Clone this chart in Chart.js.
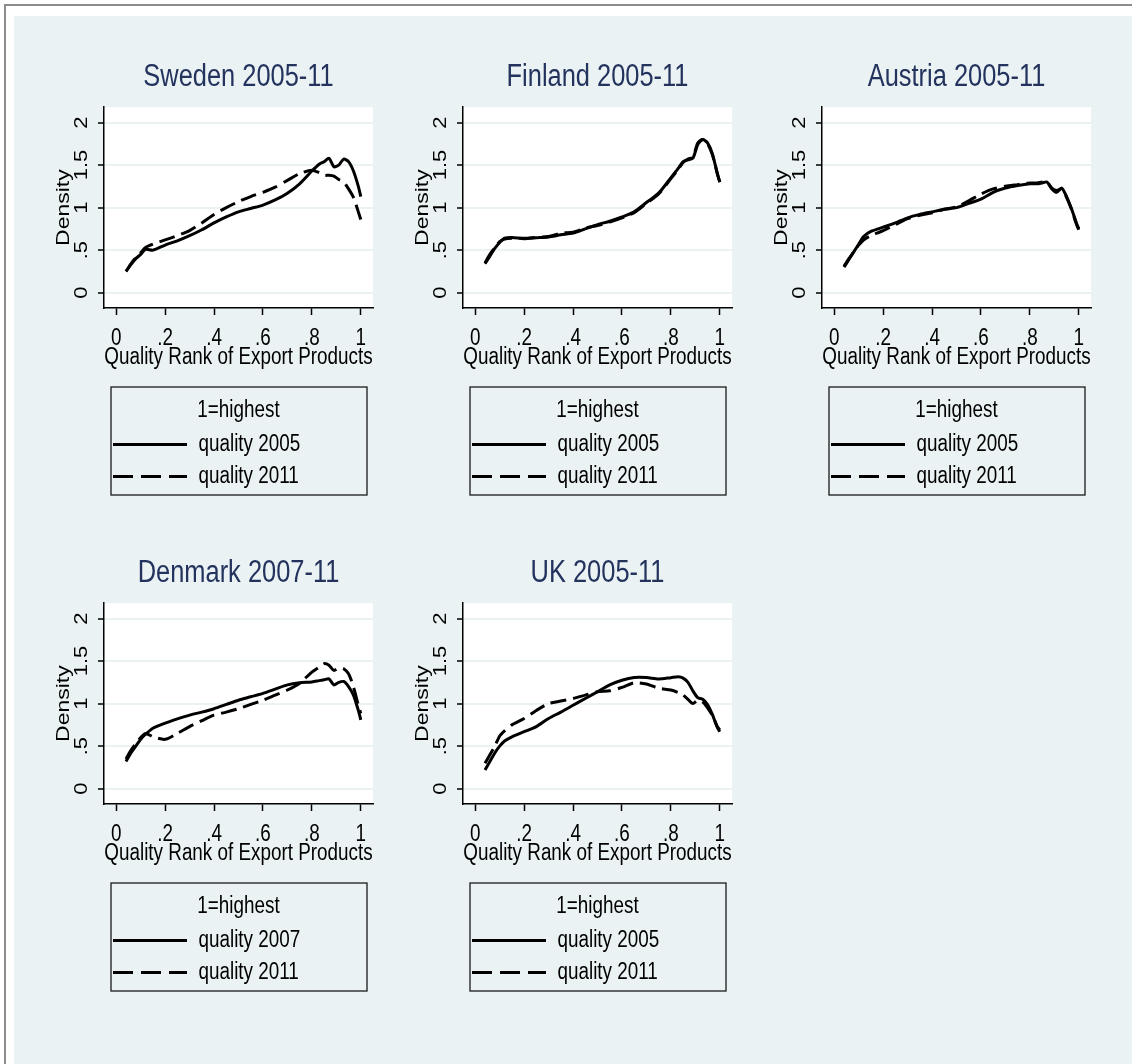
<!DOCTYPE html>
<html>
<head>
<meta charset="utf-8">
<script src="https://cdn.jsdelivr.net/npm/chart.js@4.4.1/dist/chart.umd.min.js"></script>
<style>
  html, body { margin: 0; width: 1132px; height: 1064px; overflow: hidden; background: #fff; }
  .frame { position: absolute; left: 4px; top: 4px; width: 1140px; height: 1070px; border-left: 2px solid #8c8c8c; border-top: 2px solid #8c8c8c; }
  .region { position: absolute; left: 14px; top: 16px; width: 1118px; height: 1048px; background: #eaf2f3; }
  canvas { position: absolute; }
</style>
</head>
<body>
<div class="frame"></div>
<div class="region"></div>
<canvas id="panel0" width="330" height="450" style="left:50px;top:55px"></canvas>
<canvas id="panel1" width="330" height="450" style="left:409px;top:55px"></canvas>
<canvas id="panel2" width="330" height="450" style="left:768px;top:55px"></canvas>
<canvas id="panel3" width="330" height="450" style="left:50px;top:551px"></canvas>
<canvas id="panel4" width="330" height="450" style="left:409px;top:551px"></canvas>
<script>
//quality rank grid the densities are read at
const xGrid = [0.04, 0.06, 0.08, 0.10, 0.12, 0.15, 0.20, 0.25, 0.30, 0.35, 0.40, 0.45, 0.50, 0.55, 0.60,
  0.65, 0.70, 0.75, 0.80, 0.83, 0.85, 0.87, 0.89, 0.91, 0.93, 0.95, 0.97, 0.99, 1.00];

//density values per country and year
const sweden2005 = [0.25, 0.33, 0.40, 0.45, 0.51, 0.50, 0.56, 0.61, 0.67, 0.74, 0.82, 0.89, 0.95, 0.99, 1.03,
  1.09, 1.17, 1.28, 1.43, 1.51, 1.54, 1.58, 1.48, 1.50, 1.57, 1.54, 1.43, 1.25, 1.13];
const sweden2011 = [0.25, 0.34, 0.41, 0.47, 0.53, 0.57, 0.62, 0.67, 0.73, 0.82, 0.92, 1.00, 1.07, 1.13, 1.18,
  1.24, 1.32, 1.40, 1.44, 1.41, 1.38, 1.38, 1.37, 1.33, 1.30, 1.22, 1.12, 0.95, 0.86];
const finland2005 = [0.34, 0.43, 0.52, 0.59, 0.64, 0.65, 0.635, 0.645, 0.655, 0.68, 0.70, 0.75, 0.80, 0.84, 0.89,
  0.95, 1.06, 1.17, 1.35, 1.46, 1.54, 1.56, 1.58, 1.74, 1.80, 1.76, 1.63, 1.40, 1.30];
const finland2011 = [0.35, 0.45, 0.53, 0.60, 0.63, 0.64, 0.64, 0.65, 0.66, 0.70, 0.71, 0.76, 0.79, 0.83, 0.88,
  0.94, 1.05, 1.16, 1.34, 1.45, 1.53, 1.57, 1.59, 1.76, 1.80, 1.75, 1.62, 1.40, 1.30];
const austria2005 = [0.30, 0.39, 0.48, 0.57, 0.66, 0.72, 0.77, 0.82, 0.88, 0.92, 0.95, 0.98, 1.00, 1.05, 1.10,
  1.18, 1.23, 1.26, 1.28, 1.28, 1.29, 1.30, 1.22, 1.18, 1.23, 1.13, 0.99, 0.82, 0.75];
const austria2011 = [0.31, 0.40, 0.48, 0.56, 0.62, 0.67, 0.73, 0.80, 0.87, 0.91, 0.94, 0.98, 1.01, 1.08, 1.16,
  1.22, 1.25, 1.27, 1.29, 1.29, 1.30, 1.30, 1.23, 1.20, 1.22, 1.12, 0.98, 0.81, 0.74];
const denmark2007 = [0.32, 0.42, 0.50, 0.58, 0.64, 0.71, 0.77, 0.82, 0.865, 0.90, 0.94, 0.99, 1.04, 1.08, 1.12,
  1.17, 1.22, 1.245, 1.255, 1.27, 1.28, 1.29, 1.22, 1.25, 1.26, 1.20, 1.10, 0.92, 0.81];
const denmark2011 = [0.35, 0.45, 0.53, 0.60, 0.65, 0.61, 0.58, 0.65, 0.73, 0.80, 0.865, 0.90, 0.94, 0.99, 1.04,
  1.10, 1.16, 1.24, 1.37, 1.43, 1.47, 1.45, 1.39, 1.42, 1.41, 1.35, 1.20, 0.98, 0.885];
const uk2005 = [0.22, 0.32, 0.42, 0.50, 0.56, 0.61, 0.67, 0.73, 0.825, 0.90, 0.98, 1.06, 1.14, 1.22, 1.275,
  1.307, 1.307, 1.29, 1.305, 1.315, 1.30, 1.25, 1.15, 1.07, 1.05, 0.99, 0.87, 0.72, 0.67];
const uk2011 = [0.30, 0.40, 0.50, 0.62, 0.68, 0.75, 0.825, 0.92, 1.00, 1.03, 1.06, 1.10, 1.14, 1.15, 1.19,
  1.245, 1.23, 1.18, 1.16, 1.13, 1.10, 1.05, 1.00, 1.04, 1.02, 0.95, 0.86, 0.73, 0.69];

//panel titles and legend years
const panelTitles = ["Sweden 2005-11", "Finland 2005-11", "Austria 2005-11", "Denmark 2007-11", "UK 2005-11"];
const firstYears = ["2005", "2005", "2005", "2007", "2005"];
const lastYears = ["2011", "2011", "2011", "2011", "2011"];
const firstSeries = [sweden2005, finland2005, austria2005, denmark2007, uk2005];
const lastSeries = [sweden2011, finland2011, austria2011, denmark2011, uk2011];

//ticks
const xTickValues = [0, 0.2, 0.4, 0.6, 0.8, 1];
const xTickLabels = ["0", ".2", ".4", ".6", ".8", "1"];
const yTickValues = [0, 0.5, 1, 1.5, 2];
const yTickLabels = ["0", ".5", "1", "1.5", "2"];

//set default values
Chart.defaults.font.family = "'Liberation Sans', Arial, sans-serif";
Chart.defaults.color = "#000";

//the original export is squeezed sideways, so squeeze all text the same way on screen
const TEXT_SQUEEZE = 0.82;

function squeezeText(ctx) {
  if (ctx._squeezed) return;
  let fill = ctx.fillText;
  ctx.fillText = function (text, x, y, maxWidth) {
    let m = ctx.getTransform();
    //upright text: narrow it through maxWidth
    if (Math.abs(m.b) < 1e-6) {
      let w = ctx.measureText(text).width * TEXT_SQUEEZE;
      maxWidth = maxWidth === undefined ? w : Math.min(maxWidth, w);
      return fill.call(ctx, text, x, y, maxWidth);
    }
    //rotated text: screen x is the glyph height, so flatten that axis
    ctx.save();
    ctx.translate(x, y);
    ctx.scale(1, TEXT_SQUEEZE);
    if (maxWidth === undefined) fill.call(ctx, text, 0, 0);
    else fill.call(ctx, text, 0, 0, maxWidth);
    ctx.restore();
  };
  ctx._squeezed = true;
}

//white plot region behind the curves
const plotBackground = {
  id: "plotBackground",
  beforeDraw(chart) {
    let ctx = chart.ctx, a = chart.chartArea;
    squeezeText(ctx);
    ctx.save();
    ctx.fillStyle = "#fff";
    ctx.fillRect(a.left, a.top, a.right - a.left, a.bottom - a.top);
    ctx.restore();
  },
};

//frame round the legend (subtitle + items)
const legendFrame = {
  id: "legendFrame",
  afterDraw(chart) {
    let ctx = chart.ctx, a = chart.chartArea;
    let top = chart.scales.x.bottom, bottom = chart.legend.bottom - 3;
    ctx.save();
    ctx.strokeStyle = "#1a1a1a";
    ctx.lineWidth = 1.3;
    ctx.strokeRect(a.left + 7, top, a.right - a.left - 13, bottom - top);
    ctx.restore();
  },
};

function mappedObjectFromArray(xArray, yArray) {
  return yArray.map(function (value, index) {
    return { x: xArray[index], y: value };
  });
}

//legend items take the dash of their dataset line, a bit longer
function legendLabels(chart) {
  let items = Chart.defaults.plugins.legend.labels.generateLabels(chart);
  items.forEach(function (item) {
    let ds = chart.data.datasets[item.datasetIndex];
    item.lineDash = ds.borderDash ? [20, 8] : [];
    item.lineWidth = ds.borderWidth;
    item.strokeStyle = ds.borderColor;
  });
  return items;
}

panelTitles.forEach(function (title, i) {
  let ctx = document.getElementById("panel" + i).getContext("2d");

  new Chart(ctx, {
    type: "line",
    data: {
      datasets: [
        {
          label: "quality " + firstYears[i],
          data: mappedObjectFromArray(xGrid, firstSeries[i]),
          borderColor: "#000",
          borderWidth: 3,
          pointRadius: 0,
          tension: 0.25,
          borderJoinStyle: "round",
        },
        {
          label: "quality " + lastYears[i],
          data: mappedObjectFromArray(xGrid, lastSeries[i]),
          borderColor: "#000",
          borderWidth: 3,
          borderDash: [16, 7],
          pointRadius: 0,
          tension: 0.25,
          borderJoinStyle: "round",
        },
      ],
    },
    options: {
      responsive: false,
      animation: false,
      devicePixelRatio: 1,
      layout: { padding: { top: 0, left: 0, right: 7, bottom: 7 } },
      scales: {
        x: {
          type: "linear",
          min: -0.05,
          max: 1.05,
          afterBuildTicks: function (scale) {
            scale.ticks = xTickValues.map(function (v) { return { value: v }; });
          },
          afterFit: function (scale) { scale.height = 79; },
          ticks: {
            autoSkip: false,
            maxRotation: 0,
            padding: 10,
            font: { size: 23 },
            callback: function (value, index) { return xTickLabels[index]; },
          },
          grid: { drawOnChartArea: false, tickLength: 7, tickColor: "#000", tickWidth: 1.5 },
          border: { color: "#000", width: 1.5 },
          title: {
            display: true,
            text: "Quality Rank of Export Products",
            font: { size: 23 },
            padding: { top: 0, bottom: 15.5 },
          },
        },
        y: {
          min: -0.18,
          max: 2.18,
          afterBuildTicks: function (scale) {
            scale.ticks = yTickValues.map(function (v) { return { value: v }; });
          },
          afterFit: function (scale) { scale.width = 54; },
          ticks: {
            minRotation: 90,
            maxRotation: 90,
            crossAlign: "center",
            padding: 0.7,
            font: { size: 22 },
            callback: function (value, index) { return yTickLabels[index]; },
          },
          grid: { color: "#eaf2f3", lineWidth: 2, tickLength: 6, tickColor: "#000", tickWidth: 1.5 },
          border: { color: "#000", width: 1.5 },
          title: {
            display: true,
            text: "Density",
            font: { size: 23 },
            padding: { top: 0.2, bottom: 0 },
          },
        },
      },
      plugins: {
        title: {
          display: true,
          text: title,
          fullSize: false,
          color: "#24335e",
          font: { size: 31, weight: "normal" },
          padding: { top: 4, bottom: 11 },
        },
        subtitle: {
          display: true,
          text: "1=highest",
          position: "bottom",
          fullSize: false,
          weight: 500,
          color: "#000",
          font: { size: 23, weight: "normal", lineHeight: 1.13 },
          padding: { top: 11, bottom: 0 },
        },
        legend: {
          position: "bottom",
          align: "start",
          fullSize: false,
          labels: {
            usePointStyle: true,
            pointStyle: "line",
            pointStyleWidth: 74,
            padding: 9,
            color: "#000",
            font: { size: 23 },
            generateLabels: legendLabels,
          },
        },
        tooltip: { enabled: false },
      },
    },
    plugins: [plotBackground, legendFrame],
  });
});
</script>
</body>
</html>
